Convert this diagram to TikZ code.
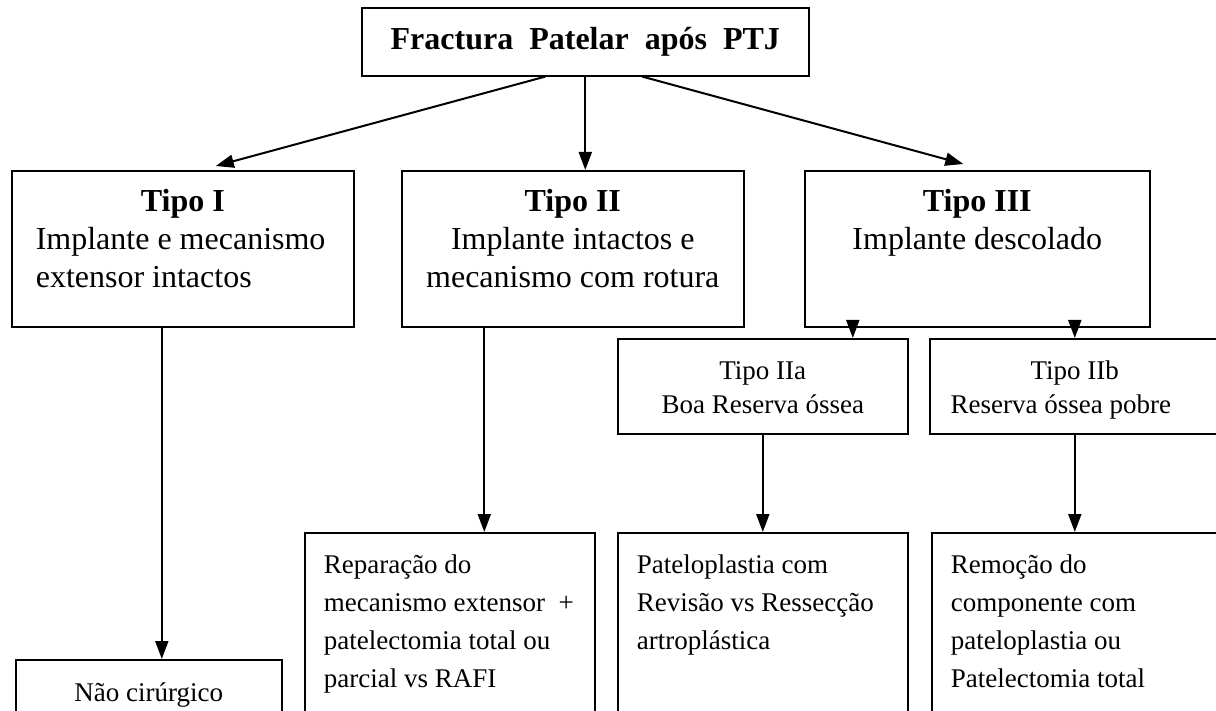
\documentclass[tikz,border=0pt]{standalone}
\usepackage{fontspec}
\setmainfont{Liberation Serif}
\usetikzlibrary{arrows.meta}
\tikzstyle{titlebox} = [rectangle, draw=black, line width=1.6pt, anchor=north west, minimum width=447pt, minimum height=68pt, font=\fontsize{32}{38}\selectfont\bfseries]
\tikzstyle{tipobox} = [rectangle, draw=black, line width=1.6pt, anchor=north west, text width=312pt, inner xsep=15pt, inner ysep=0pt, text height=41pt, text depth=115pt, align=flush center, font=\fontsize{32}{38}\selectfont]
\tikzstyle{subbox} = [rectangle, draw=black, line width=1.6pt, anchor=north west, text width=270pt, inner xsep=10pt, inner ysep=0pt, text height=41pt, text depth=54pt, align=flush center, font=\fontsize{27}{34}\selectfont]
\tikzstyle{treatbox} = [rectangle, draw=black, line width=1.6pt, anchor=north west, text width=252pt, inner xsep=19pt, inner ysep=0pt, text height=41pt, text depth=200pt, align=flush left, font=\fontsize{27}{38}\selectfont]
\tikzstyle{arrow} = [line width=2pt, ->, >={Stealth[length=18pt, width=13pt, inset=0pt]}]
\begin{document}
\begin{tikzpicture}[x=1pt, y=-1pt]
\useasboundingbox (0,0) rectangle (1216,711);
\clip (0,0) rectangle (1216,711);

\node [titlebox] (fpt) at (361,7) {Fractura~~Patelar~~após~~PTJ};

\node [tipobox, text width=294pt, inner xsep=24pt, align=flush left] (tipo1) at (11,170) {\hfill\textbf{Tipo I}\hfill\null\\ Implante e mecanismo\\ extensor intactos};
\node [tipobox] (tipo2) at (401,170) {\textbf{Tipo II}\\ Implante intactos e\\ mecanismo com rotura};
\node [tipobox, text width=315pt] (tipo3) at (804,170) {\textbf{Tipo III}\\ Implante descolado};

\node [subbox] (tipo2a) at (617,338) {Tipo IIa\\ Boa Reserva óssea};
\node [subbox] (tipo2b) at (929,338) {Tipo IIb\\ Reserva óssea pobre\hspace{28pt}\null};

\node [treatbox, text width=246pt, inner xsep=10pt, text height=42pt, align=flush center, font=\fontsize{27}{32}\selectfont] (naocir) at (15,659) {Não cirúrgico};
\node [treatbox] (repar) at (304,532) {Reparação do\\ mecanismo extensor~~+\\ patelectomia total ou\\ parcial vs RAFI};
\node [treatbox] (patelo) at (617,532) {Pateloplastia com\\ Revisão vs Ressecção\\ artroplástica};
\node [treatbox] (remoc) at (931,532) {Remoção do\\ componente com\\ pateloplastia ou\\ Patelectomia total};

\coordinate (t1out) at ([xshift=-21pt]tipo1.south);
\coordinate (t2out) at ([xshift=-88.5pt]tipo2.south);
\coordinate (t3out) at ([xshift=-124.5pt]tipo3.south);

\draw [arrow] ([xshift=-40pt]fpt.south) -- ([xshift=33pt, yshift=4pt]tipo1.north);
\draw [arrow] (fpt.south) -- (fpt.south |- tipo2.north);
\draw [arrow] ([xshift=57pt]fpt.south) -- ([xshift=-14pt, yshift=6pt]tipo3.north);
\draw [arrow] (t1out) -- (t1out |- naocir.north);
\draw [arrow] (t2out) -- (t2out |- repar.north);
\draw [arrow] (t3out) -- (t3out |- tipo2a.north);
\draw [arrow] (tipo3.south -| tipo2b.north) -- (tipo2b.north);
\draw [arrow] (tipo2a.south) -- (tipo2a.south |- patelo.north);
\draw [arrow] (tipo2b.south) -- (tipo2b.south |- remoc.north);

\end{tikzpicture}
\end{document}
